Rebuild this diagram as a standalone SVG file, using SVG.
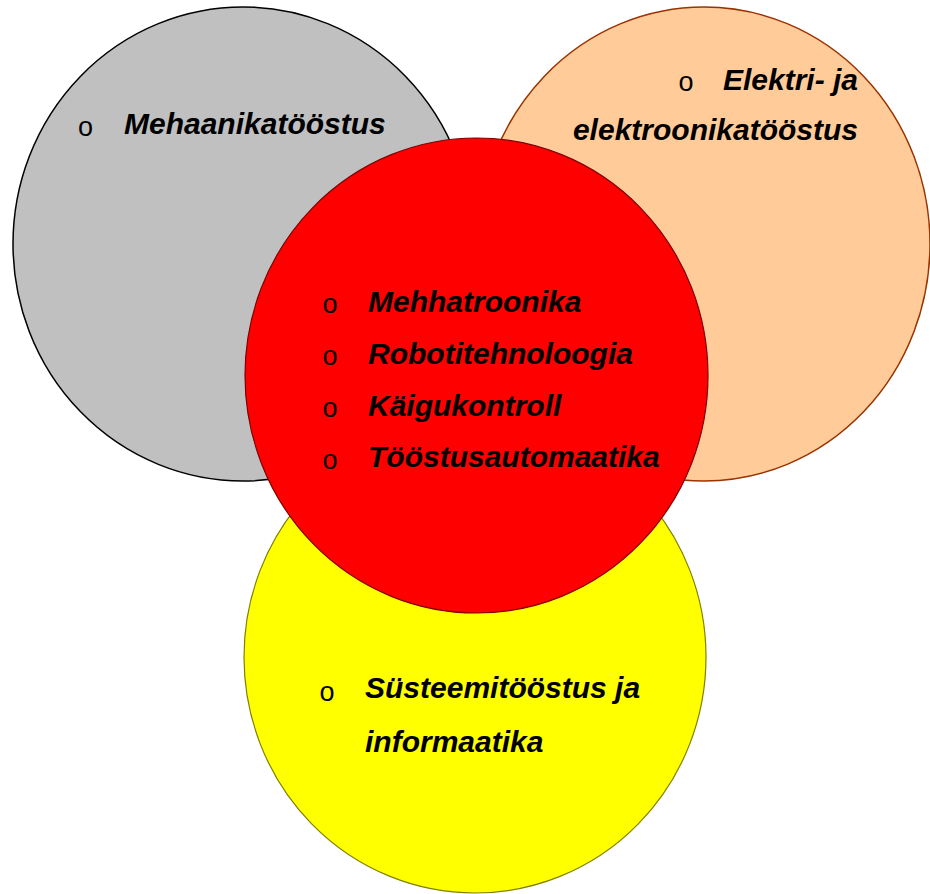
<svg xmlns="http://www.w3.org/2000/svg" width="930" height="894" viewBox="0 0 930 894">
<style>
.t{font-family:"Liberation Sans",Arial,sans-serif;font-weight:bold;font-style:italic;font-size:30px;fill:#000}
.b{font-family:"Liberation Sans",Arial,sans-serif;font-size:27px;fill:#000;text-anchor:middle}
</style>
<rect width="930" height="894" fill="#fff"/>
<g id="gray">
<ellipse cx="243" cy="244" rx="230" ry="237" fill="#C0C0C0" stroke="#000" stroke-width="1.5"/>
<text class="b" x="85.5" y="135.5">o</text>
<text class="t" x="124" y="134">Mehaanikatööstus</text>
</g>
<g id="orange">
<ellipse cx="704" cy="244" rx="226" ry="237" fill="#FFCC99" stroke="#993300" stroke-width="1.5"/>
<text class="b" x="686" y="90.5">o</text>
<text class="t" x="858" y="90" text-anchor="end">Elektri- ja</text>
<text class="t" x="858" y="140" text-anchor="end">elektroonikatööstus</text>
</g>
<g id="yellow">
<ellipse cx="475" cy="657" rx="231" ry="236" fill="#FFFF00" stroke="#808000" stroke-width="1.2"/>
<text class="b" x="327" y="700.5">o</text>
<text class="t" x="365" y="698">Süsteemitööstus ja</text>
<text class="t" x="365" y="752">informaatika</text>
</g>
<g id="red">
<ellipse cx="476.5" cy="375.5" rx="231.5" ry="237.5" fill="#FF0000" stroke="#800000" stroke-width="1.2"/>
<text class="b" x="330" y="312.5">o</text>
<text class="t" x="368" y="312">Mehhatroonika</text>
<text class="b" x="330" y="364.5">o</text>
<text class="t" x="368" y="364">Robotitehnoloogia</text>
<text class="b" x="330" y="416.5">o</text>
<text class="t" x="368" y="416">Käigukontroll</text>
<text class="b" x="330" y="468.5">o</text>
<text class="t" x="368" y="467">Tööstusautomaatika</text>
</g>
<g id="connectors"></g>
</svg>
